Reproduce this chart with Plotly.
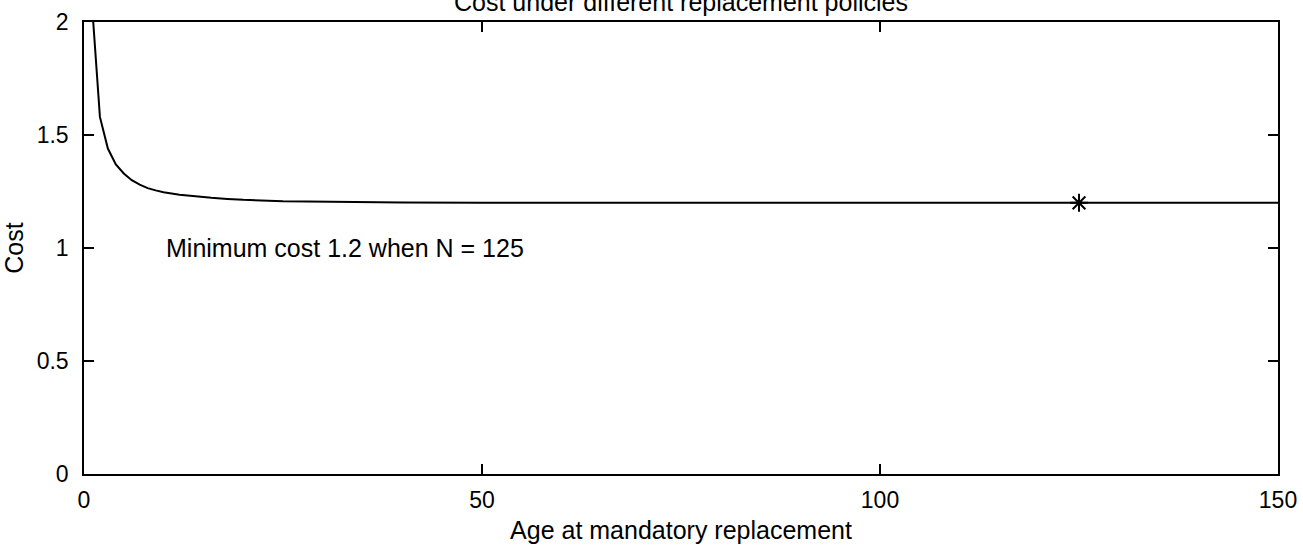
import plotly.graph_objects as go

# Average cost per unit time against the age N at mandatory replacement
age = [1, 2, 3, 4, 5, 6, 7, 8, 9, 10, 12, 14, 16, 18, 20, 25, 30, 40, 50, 100, 125, 150]
cost = [2.08, 1.58, 1.44, 1.37, 1.33, 1.30, 1.28, 1.265, 1.255, 1.247, 1.236,
        1.228, 1.222, 1.217, 1.213, 1.207, 1.204, 1.201, 1.200, 1.200, 1.200, 1.200]

best_age = [125]
best_cost = [1.2]

x_ticks = [0, 50, 100, 150]
y_ticks = [0, 0.5, 1, 1.5, 2]
y_tick_text = ["0", "0.5", "1", "1.5", "2"]

FONT = "Liberation Sans, Arial, Helvetica, sans-serif"
TEXT_SIZE = 25

fig = go.Figure()
fig.add_trace(go.Scatter(
    x=age, y=cost, mode="lines",
    line=dict(color="black", width=2),
    showlegend=False, hoverinfo="skip",
))
fig.add_trace(go.Scatter(
    x=best_age, y=best_cost, mode="markers",
    marker=dict(symbol="asterisk-open", size=15, color="black",
                line=dict(color="black", width=2)),
    showlegend=False,
))

fig.add_annotation(
    x=10, y=1, xref="x", yref="y",
    text=f"Minimum cost {best_cost[0]} when N = {best_age[0]}",
    showarrow=False, xanchor="left", yanchor="middle",
    font=dict(family=FONT, size=TEXT_SIZE, color="black"),
)

# Title sits partly above the top edge of the page
fig.add_annotation(
    x=0.5, y=1, xref="paper", yref="paper",
    text="Cost under different replacement policies",
    showarrow=False, xanchor="center", yanchor="bottom", yshift=4,
    font=dict(family=FONT, size=TEXT_SIZE, color="black"),
)

axis_common = dict(
    showline=True, linecolor="black", linewidth=1.5, mirror="ticks",
    ticks="inside", ticklen=10, tickwidth=1.5, tickcolor="black",
    showgrid=False, zeroline=False, automargin=False,
    tickfont=dict(family=FONT, size=23, color="black"),
)

fig.update_xaxes(
    range=[0, 150], tickvals=x_ticks, ticklabelstandoff=5,
    title=dict(text="Age at mandatory replacement", standoff=9,
               font=dict(family=FONT, size=TEXT_SIZE, color="black")),
    **axis_common,
)
fig.update_yaxes(
    range=[0, 2], tickvals=y_ticks, ticktext=y_tick_text, ticklabelstandoff=9,
    title=dict(text="Cost", standoff=12,
               font=dict(family=FONT, size=TEXT_SIZE, color="black")),
    **axis_common,
)

fig.update_layout(
    width=1303, height=546,
    margin=dict(l=84, r=25, t=22, b=72),
    plot_bgcolor="white", paper_bgcolor="white",
)

fig.write_html("out.html")
